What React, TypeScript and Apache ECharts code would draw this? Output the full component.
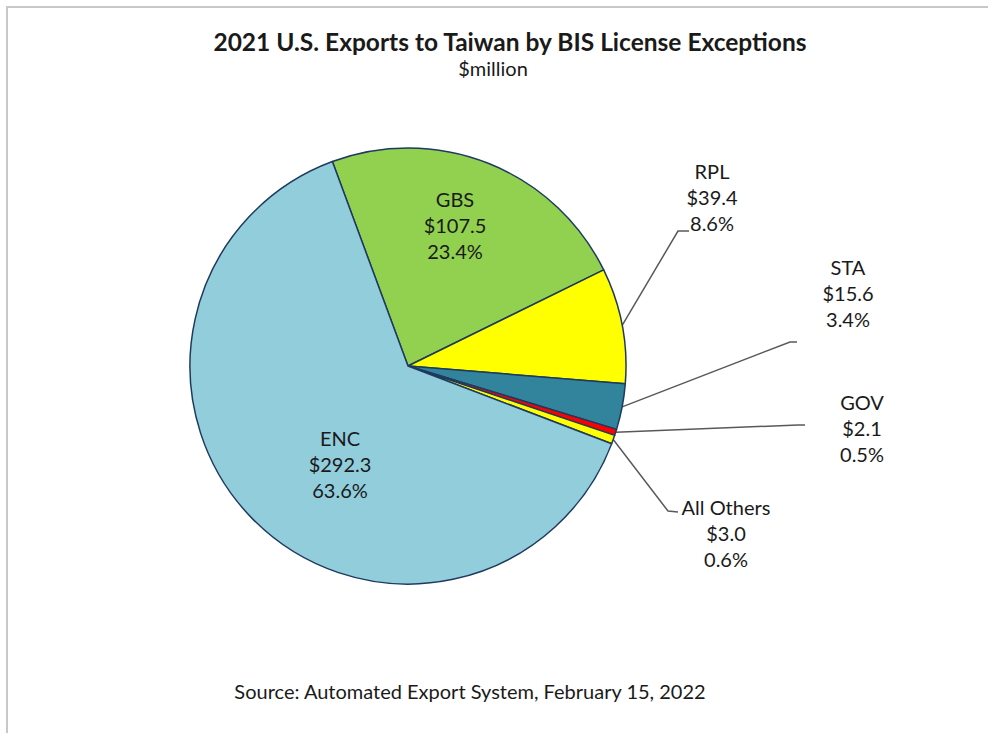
import React, { useEffect, useRef } from "react";
import * as echarts from "echarts";

const categories = ["GBS", "RPL", "STA", "GOV", "All Others", "ENC"];
const valuesMillion = [107.5, 39.4, 15.6, 2.1, 3.0, 292.3];
const percentLabels = [23.4, 8.6, 3.4, 0.5, 0.6, 63.6];
const sliceColors = ["#92D050", "#FFFF00", "#31849B", "#FF0000", "#FFFF00", "#92CDDC"];
const insideLabel = [true, false, false, false, false, true];

const TITLE = "2021 U.S. Exports to Taiwan by BIS License Exceptions";
const SUBTITLE = "$million";
const SOURCE = "Source: Automated Export System, February 15, 2022";

// label layout (positions only)
const LABEL_POS: { x: number; y: number; line?: number[][] }[] = [
  { x: 455, y: 225 },
  { x: 712, y: 197, line: [[678, 231], [689, 231]] },
  { x: 848, y: 293, line: [[790, 342], [797, 342]] },
  { x: 862, y: 428, line: [[798, 425], [805, 425]] },
  { x: 726, y: 533, line: [[668, 511], [678, 512]] },
  { x: 340, y: 464 },
];

const FONT = "Lato, 'Open Sans', sans-serif";

export default function App() {
  const ref = useRef<HTMLDivElement>(null);
  useEffect(() => {
    if (!ref.current) return;
    const chart = echarts.init(ref.current, undefined, { renderer: "svg" });
    const data = categories.map((name, i) => ({
      name,
      value: valuesMillion[i],
      itemStyle: { color: sliceColors[i] },
      label: insideLabel[i]
        ? { position: "inside" as const }
        : { position: "outside" as const },
      labelLine: { show: !insideLabel[i] },
    }));
    chart.setOption({
      animation: false,
      backgroundColor: "#ffffff",
      title: [
        {
          text: TITLE,
          left: 505,
          top: 24,
          textAlign: "center",
          textStyle: { fontFamily: FONT, fontSize: 24.5, fontWeight: "bold", color: "#1a1a1a" },
        },
        {
          text: SUBTITLE,
          left: 488,
          top: 53,
          textAlign: "center",
          textStyle: { fontFamily: FONT, fontSize: 20, fontWeight: "normal", color: "#1a1a1a" },
        },
        {
          text: SOURCE,
          left: 465,
          top: 676,
          textAlign: "center",
          textStyle: { fontFamily: FONT, fontSize: 20, fontWeight: "normal", color: "#1a1a1a" },
        },
      ],
      graphic: [
        { type: "line", shape: { x1: 6, y1: 7, x2: 988, y2: 7 }, style: { stroke: "#c8c8c8", lineWidth: 2 } },
        { type: "line", shape: { x1: 7, y1: 6, x2: 7, y2: 733 }, style: { stroke: "#c8c8c8", lineWidth: 2 } },
      ],
      series: [
        {
          type: "pie",
          center: [408, 366],
          radius: 218,
          startAngle: 110.3,
          clockwise: true,
          avoidLabelOverlap: false,
          itemStyle: { borderColor: "#1F3A5F", borderWidth: 1.5 },
          label: {
            show: true,
            fontFamily: FONT,
            fontSize: 20,
            lineHeight: 26,
            color: "#1a1a1a",
            align: "center",
            formatter: (p: any) =>
              `${p.name}\n$${valuesMillion[p.dataIndex].toFixed(1)}\n${percentLabels[p.dataIndex].toFixed(1)}%`,
          },
          labelLine: { lineStyle: { color: "#595959", width: 1.5 } },
          labelLayout: (params: any) => {
            const i = params.dataIndex;
            const L = LABEL_POS[i];
            const out: any = { x: L.x, y: L.y, align: "center", verticalAlign: "middle" };
            if (L.line && params.labelLinePoints) {
              out.labelLinePoints = [params.labelLinePoints[0], L.line[0], L.line[1]];
            }
            return out;
          },
          emphasis: { disabled: true },
          data,
        },
      ],
    });
    return () => chart.dispose();
  }, []);
  return (
    <div
      ref={ref}
      style={{ position: "fixed", left: 0, top: 0, width: 988, height: 733 }}
    />
  );
}
